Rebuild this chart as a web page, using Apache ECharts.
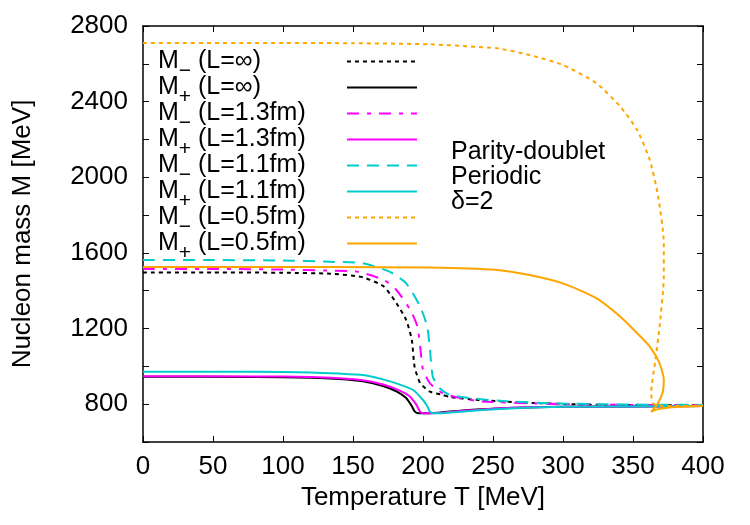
<!DOCTYPE html>
<html>
<head>
<meta charset="utf-8">
<script src="https://cdn.jsdelivr.net/npm/echarts@6/dist/echarts.min.js"></script>
<style>
  html, body { margin: 0; padding: 0; background: #fff; }
  #main { width: 750px; height: 525px; }
</style>
</head>
<body>
<div id="main"></div>
<script>
  // [T (MeV), M (MeV)] pairs
  const minusInf = [[0, 1497], [50, 1497], [100, 1495], [134, 1490], [157, 1471], [172, 1422], [181, 1334], [188, 1245], [192, 1140], [194, 998], [198, 911], [205, 866], [214, 849], [219, 838], [240, 822], [280, 806], [330, 796], [400, 794]]
  const plusInf = [[0, 945], [80, 944], [120, 940], [140, 933], [157, 921], [172, 895], [181, 868], [188, 833], [192, 790], [194, 762], [197, 752], [205, 752], [230, 768], [260, 780], [300, 786], [400, 790]]
  const minus13 = [[0, 1515], [50, 1515], [100, 1512], [134, 1506], [153, 1501], [172, 1457], [181, 1404], [191, 1298], [196, 1210], [198, 1104], [200, 981], [205, 910], [214, 858], [225, 835], [241, 815], [280, 804], [330, 797], [400, 795]]
  const plus13 = [[0, 948], [80, 947], [120, 944], [140, 937], [157, 926], [172, 903], [181, 880], [190, 845], [195, 800], [198, 760], [200, 752], [210, 753], [230, 766], [260, 780], [300, 786], [400, 790]]
  const minus11 = [[0, 1562], [50, 1562], [100, 1560], [134, 1553], [157, 1545], [176, 1501], [188, 1439], [198, 1316], [203, 1210], [205, 1087], [207, 945], [212, 884], [219, 849], [236, 830], [260, 815], [300, 803], [350, 798], [400, 796]]
  const plus11 = [[0, 972], [80, 971], [120, 968], [140, 962], [157, 954], [172, 930], [181, 910], [193, 875], [200, 822], [203, 790], [205, 760], [208, 752], [215, 753], [240, 768], [270, 780], [300, 786], [400, 790]]
  const minus05 = [[0, 2710], [100, 2710], [150, 2709], [205, 2703], [253, 2682], [276, 2647], [300, 2594], [324, 2497], [341, 2373], [353, 2250], [362, 2091], [368, 1897], [372, 1651], [372, 1474], [369, 1210], [366, 1034], [363, 858], [364, 805], [367, 795], [372, 790], [400, 792]]
  const plus05 = [[0, 1525], [134, 1525], [205, 1523], [253, 1510], [276, 1483], [300, 1439], [324, 1360], [341, 1263], [353, 1175], [362, 1104], [369, 1016], [372, 928], [371, 858], [367, 796], [363, 760], [368, 774], [376, 783], [390, 788], [400, 790]]

  const seriesNames = ['M- (L=∞)', 'M+ (L=∞)', 'M- (L=1.3fm)', 'M+ (L=1.3fm)', 'M- (L=1.1fm)', 'M+ (L=1.1fm)', 'M- (L=0.5fm)', 'M+ (L=0.5fm)']
  const annotation = ['Parity-doublet', 'Periodic', 'δ=2']

  const font = 'Liberation Sans, Arial, sans-serif'
  const orange = '#ffa500'
  const magenta = '#ff00ff'
  const cyan = '#00cccc'

  let chart = echarts.init(document.getElementById('main'))

  function curve(name, data, color, type) {
    return {
      name: name,
      type: 'line',
      data: data,
      symbol: 'none',
      smooth: 0.2,
      lineStyle: { color: color, width: 2, type: type },
      itemStyle: { color: color, opacity: 0 }
    }
  }

  const tick = { show: true, inside: true, length: 6, lineStyle: { color: '#000', width: 1 } }
  const border = { show: true, onZero: false, lineStyle: { color: '#000', width: 1.5 } }

  let option = {
    animation: false,
    backgroundColor: '#fff',
    textStyle: { fontFamily: font },
    grid: { left: 143, right: 47, top: 26, bottom: 83 },
    legend: {
      orient: 'vertical',
      left: 158,
      top: 49,
      padding: 0,
      align: 'right',
      itemWidth: 70,
      itemHeight: 14,
      itemGap: -7,
      itemStyle: { opacity: 0 },
      data: seriesNames,
      formatter: function (name) {
        const sign = name.charAt(1) === '-' ? '−' : '+'
        return '{t|M}{s|' + sign + '}{t|' + name.slice(2) + '}'
      },
      textStyle: {
        width: 184,
        rich: {
          t: { fontSize: 25, fontFamily: font, color: '#000', align: 'left', lineHeight: 26 },
          s: { fontSize: 21, fontFamily: font, color: '#000', align: 'left', lineHeight: 26, padding: [10, 0, -10, 0] }
        }
      }
    },
    xAxis: [
      {
        type: 'value',
        min: 0,
        max: 400,
        interval: 50,
        name: 'Temperature T [MeV]',
        nameLocation: 'middle',
        nameGap: 43,
        nameTextStyle: { fontSize: 26, color: '#000', fontFamily: font },
        axisLine: border,
        axisTick: tick,
        axisLabel: { fontSize: 26, color: '#000', margin: 12, fontFamily: font },
        splitLine: { show: false }
      },
      {
        type: 'value',
        position: 'top',
        min: 0,
        max: 400,
        interval: 50,
        axisLine: border,
        axisTick: tick,
        axisLabel: { show: false },
        splitLine: { show: false }
      }
    ],
    yAxis: [
      {
        type: 'value',
        min: 600,
        max: 2800,
        interval: 200,
        name: 'Nucleon mass M [MeV]',
        nameLocation: 'middle',
        nameGap: 107,
        nameTextStyle: { fontSize: 26, color: '#000', fontFamily: font },
        axisLine: border,
        axisTick: tick,
        axisLabel: {
          fontSize: 26,
          color: '#000',
          margin: 15,
          fontFamily: font,
          formatter: function (v) {
            return v >= 800 && (v - 800) % 400 === 0 ? String(v) : ''
          }
        },
        splitLine: { show: false }
      },
      {
        type: 'value',
        position: 'right',
        min: 600,
        max: 2800,
        interval: 200,
        axisLine: border,
        axisTick: tick,
        axisLabel: { show: false },
        splitLine: { show: false }
      }
    ],
    graphic: [
      {
        type: 'text',
        left: 451,
        top: 140,
        style: {
          text: annotation.join('\n'),
          font: '25px ' + font,
          lineHeight: 25,
          fill: '#000'
        }
      }
    ],
    series: [
      curve(seriesNames[0], minusInf, '#000', [4, 4]),
      curve(seriesNames[1], plusInf, '#000', 'solid'),
      curve(seriesNames[2], minus13, magenta, [12, 8, 4, 8]),
      curve(seriesNames[3], plus13, magenta, 'solid'),
      curve(seriesNames[4], minus11, cyan, [12, 8]),
      curve(seriesNames[5], plus11, cyan, 'solid'),
      curve(seriesNames[6], minus05, orange, [4, 4]),
      curve(seriesNames[7], plus05, orange, 'solid')
    ]
  }

  option && chart.setOption(option)
</script>
</body>
</html>
